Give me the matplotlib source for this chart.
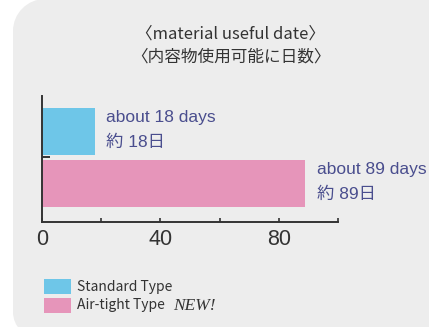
import matplotlib
matplotlib.use("Agg")
import matplotlib.pyplot as plt
from matplotlib.path import Path
from matplotlib.patches import PathPatch, Rectangle
from matplotlib.transforms import IdentityTransform

# Usable days after opening, per container type.
types       = ["Air-tight Type", "Standard Type"]
days        = [89, 18]
labels_en   = ["about 89 days", "about 18 days"]
labels_ja   = ["約 89日", "約 18日"]
bar_colors  = ["#e695ba", "#6ec6e8"]
x_ticks     = [0, 40, 80]
x_minor     = [20, 60, 100]

plt.rcParams['font.family'] = ['Noto Sans CJK JP', 'DejaVu Sans']
sans_ja = ['Liberation Sans', 'Noto Sans CJK JP']

W, H = 429, 327
fig = plt.figure(figsize=(W/100, H/100), dpi=100)
fig.patch.set_facecolor("white")

# Grey rounded panel behind everything (pixel coordinates, image y downwards).
def panel_path(left, top, bottom, right, r_top, r_bot):
  k = 0.5523
  def p(x, y):
    return (x, H - y)
  verts = [p(left, top + r_top),
           p(left, bottom - r_bot),
           p(left, bottom - r_bot + k*r_bot), p(left + r_bot - k*r_bot, bottom), p(left + r_bot, bottom),
           p(right, bottom),
           p(right, top),
           p(left + r_top, top),
           p(left + r_top - k*r_top, top), p(left, top + r_top - k*r_top), p(left, top + r_top),
           p(left, top + r_top)]
  codes = [Path.MOVETO, Path.LINETO,
           Path.CURVE4, Path.CURVE4, Path.CURVE4,
           Path.LINETO, Path.LINETO, Path.LINETO,
           Path.CURVE4, Path.CURVE4, Path.CURVE4,
           Path.CLOSEPOLY]
  return Path(verts, codes)

panel = PathPatch(panel_path(13, -1, 338, W + 20, 32, 26), facecolor="#ededed",
                  edgecolor="none", transform=IdentityTransform(), zorder=-1)
fig.patches.append(panel)

# Axes placed in pixel terms: x from 42 to 338, y from 96 to 222.
ax = fig.add_axes([42/W, (H - 222)/H, 296/W, 126/H])
ax.patch.set_visible(False)

y_pos = list(range(len(types)))
ax.barh(y_pos, days, height=0.9, color=bar_colors, zorder=1)
ax.set_xlim(0, 100)
ax.set_ylim(-0.74, 1.68)

for y, d, en, ja in zip(y_pos, days, labels_en, labels_ja):
  ax.annotate(en, xy=(d, y), xytext=(8, 10), textcoords="offset points",
              ha="left", va="center", fontsize=12.5, color="#4a4e8e",
              family=sans_ja, annotation_clip=False)
  ax.annotate(ja, xy=(d, y), xytext=(8, -8), textcoords="offset points",
              ha="left", va="center", fontsize=12.5, color="#4a4e8e",
              family=sans_ja, annotation_clip=False)

# Spines and ticks.
for side in ["top", "right"]:
  ax.spines[side].set_visible(False)
for side in ["left", "bottom"]:
  ax.spines[side].set_color("#333333")
  ax.spines[side].set_linewidth(1.4)

ax.set_xticks(x_ticks)
ax.set_xticks(x_minor, minor=True)
ax.set_xticklabels([str(t) for t in x_ticks], family="Liberation Sans")
ax.tick_params(axis="x", which="both", direction="in", length=3, width=1.2,
               color="#333333", labelsize=15.5, labelcolor="#333333", pad=5)
ax.set_yticks([0.5])
ax.set_yticklabels([])
ax.tick_params(axis="y", direction="in", length=6, width=1.4, color="#333333")

# Title.
fig.text(231/W, 1 - 34/H, "〈material useful date〉", ha="center", va="center",
         fontsize=12, color="#333333")
fig.text(231/W, 1 - 57/H, "〈内容物使用可能に日数〉", ha="center", va="center",
         fontsize=12, color="#333333")

# Legend drawn by hand so "NEW!" can use its own face.
legend_rows = [("Standard Type", bar_colors[1], 279),
               ("Air-tight Type", bar_colors[0], 298)]
for text, color, top in legend_rows:
  fig.patches.append(Rectangle((44, H - top - 15), 27, 15, facecolor=color,
                               edgecolor="none", transform=IdentityTransform()))
  fig.text(77/W, 1 - (top + 7.5)/H, text, ha="left", va="center",
           fontsize=10, color="#333333", family=["Noto Sans CJK KR", "DejaVu Sans"])

fig.text(173/W, 1 - (298 + 7.5)/H, "NEW!", ha="left", va="center", fontsize=12.5,
         color="#333333", family="Liberation Serif", style="italic")

fig.savefig("out.png", dpi=100)
